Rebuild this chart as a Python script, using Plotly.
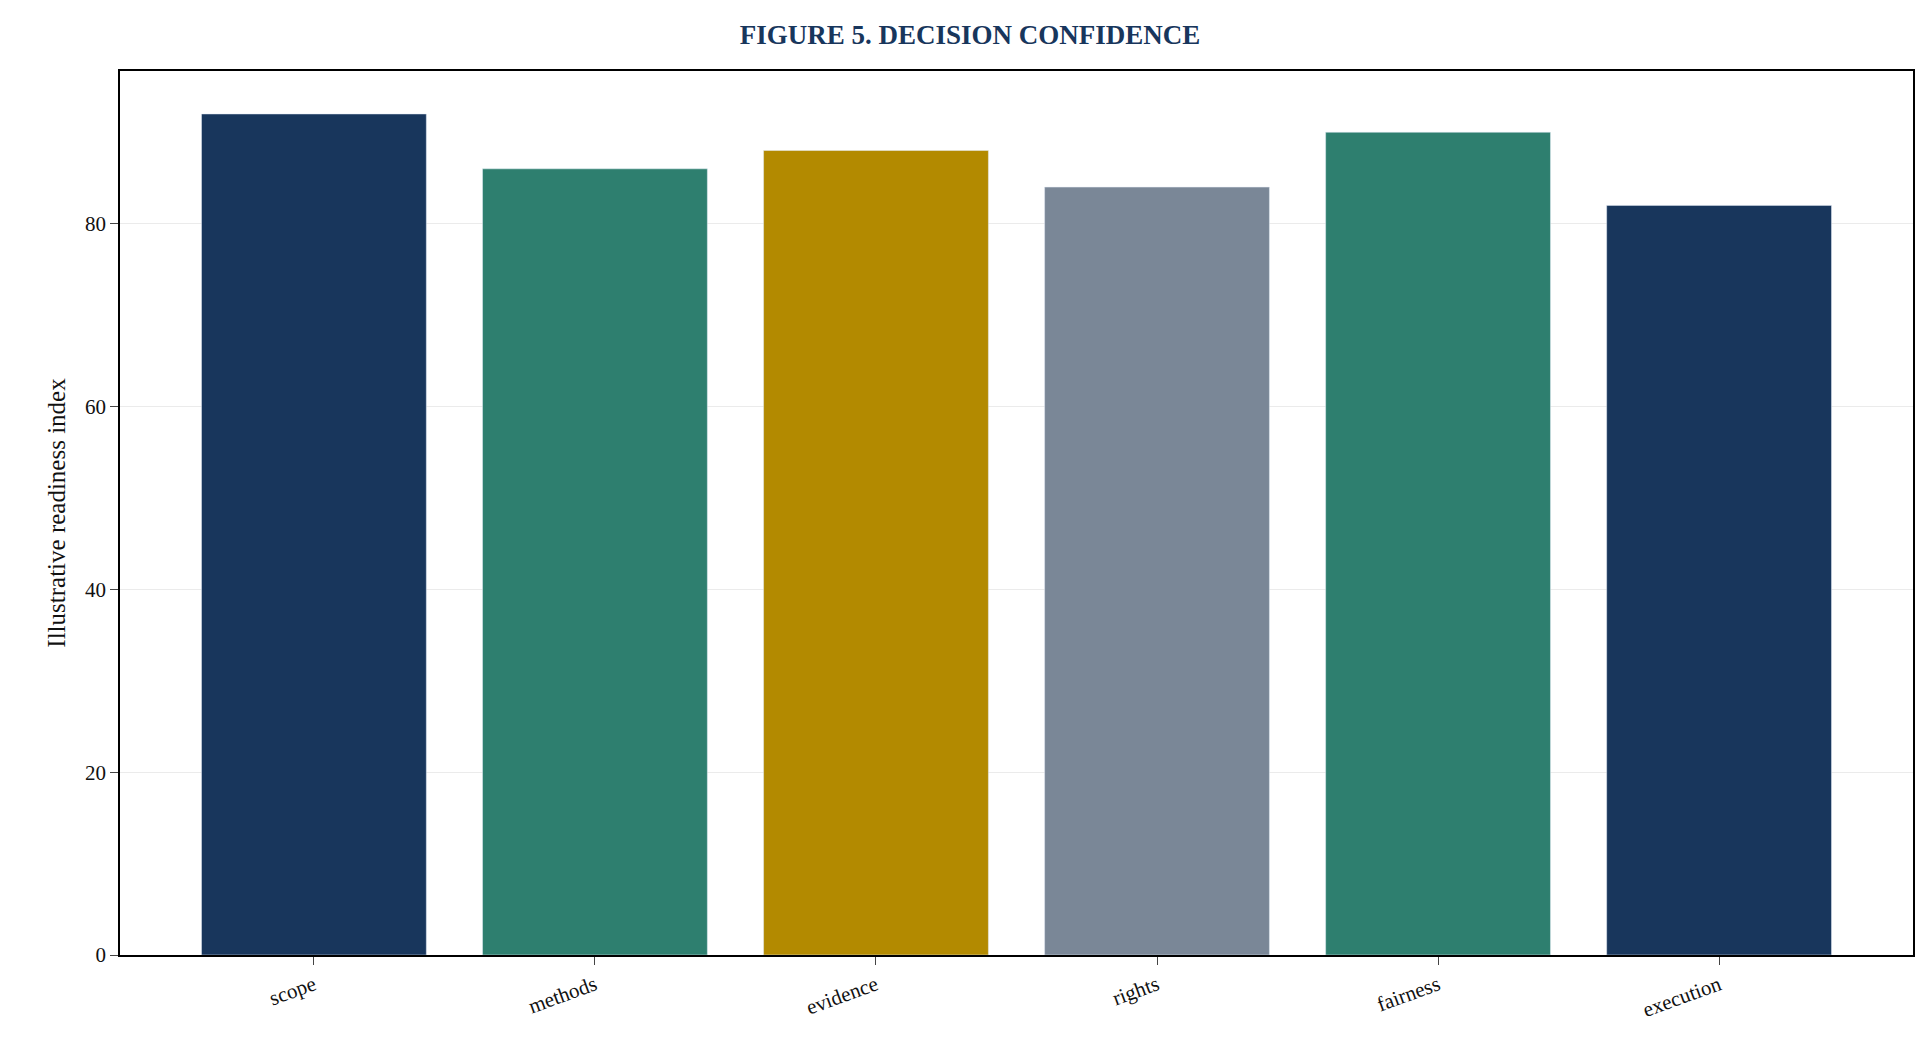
import plotly.graph_objects as go

categories = ['scope', 'methods', 'evidence', 'rights', 'fairness', 'execution']
values = [92, 86, 88, 84, 90, 82]
colors = ['#18365c', '#2e7f6f', '#b38a00', '#7a8797', '#2e7f6f', '#18365c']

fig = go.Figure(go.Bar(x=categories, y=values, marker_color=colors, width=0.8))

fig.update_layout(
    width=1924, height=1052,
    margin=dict(l=112, r=19, t=63, b=105),
    paper_bgcolor='white', plot_bgcolor='white',
    font=dict(family='Liberation Serif, Times New Roman, serif', size=21, color='#111'),
    title=dict(text='<b>FIGURE 5. DECISION CONFIDENCE</b>', x=0.5, xanchor='center',
               y=0.975, yanchor='middle', font=dict(size=27, color='#18365c')),
    showlegend=False,
    bargap=0.2,
)
fig.update_xaxes(range=[-0.69, 5.69], showline=True, linecolor='black', linewidth=1.5,
                 mirror=True, ticks='outside', ticklen=8, tickangle=-20, showgrid=False)
fig.update_yaxes(range=[0, 96.7], showline=True, linecolor='black', linewidth=1.5,
                 mirror=True, ticks='outside', ticklen=8, tickvals=[0, 20, 40, 60, 80],
                 gridcolor='rgba(0,0,0,0.08)', zeroline=False,
                 title=dict(text='Illustrative readiness index', standoff=12))

fig.write_html("out.html")
